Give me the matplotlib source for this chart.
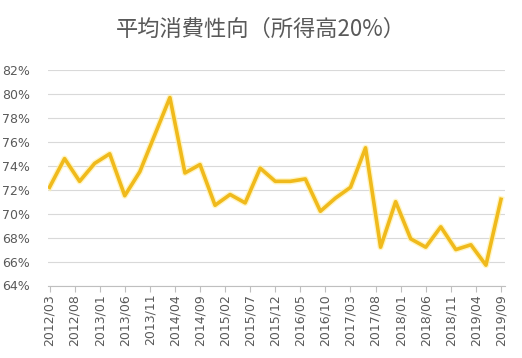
import matplotlib
matplotlib.use("Agg")
import matplotlib.pyplot as plt
import matplotlib.patheffects as pe

# quarterly data, 2012/03 .. 2019/09 (months since 2012/03)
months = list(range(0, 91, 3))
values = [72.2, 74.6, 72.7, 74.2, 75.0, 71.5, 73.5, 76.6, 79.7, 73.4,
          74.1, 70.7, 71.6, 70.9, 73.8, 72.7, 72.7, 72.9, 70.2, 71.3,
          72.2, 75.5, 67.2, 71.0, 67.9, 67.2, 68.9, 67.0, 67.4, 65.7, 71.2]

tick_months = list(range(0, 91, 5))
tick_labels = ["2012/03", "2012/08", "2013/01", "2013/06", "2013/11", "2014/04",
               "2014/09", "2015/02", "2015/07", "2015/12", "2016/05", "2016/10",
               "2017/03", "2017/08", "2018/01", "2018/06", "2018/11", "2019/04",
               "2019/09"]
y_ticks = list(range(64, 83, 2))

TXT = '#595959'
W, H = 522, 358
fig = plt.figure(figsize=(W / 100, H / 100), dpi=100)
ax = fig.add_axes([48 / W, 1 - 285.5 / H, (505 - 48) / W, (285.5 - 70) / H])

ax.plot(months, values, color='#F0BA1C', lw=2.6, solid_joinstyle='round',
        path_effects=[pe.Stroke(linewidth=4.5, foreground='#FFF1A8', alpha=0.7,
                                joinstyle='round'),
                      pe.Normal()], zorder=3)

ax.set_xlim(-0.3, 90.8)
ax.set_ylim(64, 82)
ax.set_yticks(y_ticks)
ax.set_yticklabels([f"{v}%" for v in y_ticks])
ax.set_xticks(tick_months)
ax.set_xticklabels(tick_labels, rotation=90)

ax.grid(axis='y', color='#D9D9D9', lw=0.8)
ax.set_axisbelow(True)
for s in ('left', 'right', 'top'):
    ax.spines[s].set_visible(False)
ax.spines['bottom'].set_color('#BFBFBF')
ax.spines['bottom'].set_linewidth(0.8)
ax.tick_params(axis='y', length=0, labelsize=9, labelcolor=TXT, pad=13)
ax.tick_params(axis='x', length=4, color='#BFBFBF', width=0.8,
               labelsize=9, labelcolor=TXT, pad=2)

fig.text(0.5, 1 - 29 / H, "平均消費性向（所得高20%）", ha='center', va='center',
         fontsize=16, color=TXT, family=['Noto Sans CJK JP', 'DejaVu Sans'])

fig.savefig("out.png", dpi=100)
